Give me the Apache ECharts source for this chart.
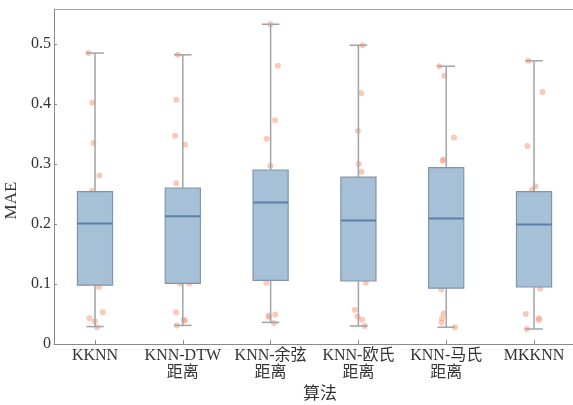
<!DOCTYPE html>
<html>
<head>
<meta charset="utf-8">
<script src="https://cdn.jsdelivr.net/npm/echarts@6/dist/echarts.min.js"></script>
<style>html,body{margin:0;padding:0;background:#fff;overflow:hidden;}#chart{width:573px;height:405px;overflow:hidden;}</style>
</head>
<body>
<div id="chart"></div>
<script>
// ---- data ----
const categories = ['KKNN', 'KNN-DTW\n距离', 'KNN-余弦\n距离', 'KNN-欧氏\n距离', 'KNN-马氏\n距离', 'MKKNN'];
const categoryPositions = [1, 2, 3, 4, 5, 6];
const boxMin    = [0.029, 0.031, 0.036, 0.030, 0.028, 0.025];
const boxQ1     = [0.098, 0.101, 0.106, 0.105, 0.093, 0.095];
const boxMedian = [0.201, 0.213, 0.236, 0.206, 0.209, 0.199];
const boxQ3     = [0.254, 0.260, 0.290, 0.278, 0.294, 0.254];
const boxMax    = [0.485, 0.482, 0.533, 0.498, 0.463, 0.472];

// visible scatter points: values and horizontal jitter (category units)
const pointsKKNN   = [0.485, 0.402, 0.335, 0.281, 0.255, 0.095, 0.043, 0.038, 0.053, 0.028];
const jitterKKNN   = [-0.075, -0.030, -0.018, 0.050, -0.034, 0.045, -0.064, -0.003, 0.088, 0.023];
const pointsDTW    = [0.482, 0.407, 0.347, 0.332, 0.268, 0.101, 0.101, 0.053, 0.040, 0.039, 0.031];
const jitterDTW    = [-0.057, -0.073, -0.088, 0.026, -0.076, -0.031, 0.075, -0.076, 0.011, 0.023, -0.068];
const pointsCos    = [0.533, 0.464, 0.373, 0.342, 0.297, 0.102, 0.045, 0.049, 0.047, 0.035];
const jitterCos    = [-0.003, 0.083, 0.049, -0.046, -0.003, -0.049, -0.015, 0.053, -0.026, 0.038];
const pointsEuc    = [0.498, 0.418, 0.355, 0.300, 0.287, 0.102, 0.057, 0.046, 0.041, 0.030];
const jitterEuc    = [0.046, 0.031, -0.007, 0.005, 0.034, 0.084, -0.041, -0.011, 0.042, 0.073];
const pointsMah    = [0.463, 0.447, 0.344, 0.306, 0.307, 0.091, 0.051, 0.043, 0.036, 0.028];
const jitterMah    = [-0.080, -0.023, 0.088, -0.042, -0.031, -0.057, -0.031, -0.049, -0.053, 0.099];
const pointsMK     = [0.472, 0.420, 0.330, 0.263, 0.257, 0.092, 0.050, 0.043, 0.040, 0.025];
const jitterMK     = [-0.064, 0.096, -0.075, 0.016, -0.023, 0.068, -0.094, 0.057, 0.053, -0.083];

const yTicks = [0, 0.1, 0.2, 0.3, 0.4, 0.5];
const yTickLabels = ['0', '0.1', '0.2', '0.3', '0.4', '0.5'];
const xAxisTitle = '算法';
const yAxisTitle = 'MAE';

// ---- build series data ----
const boxData = categoryPositions.map((x, i) => [x, boxMin[i], boxQ1[i], boxMedian[i], boxQ3[i], boxMax[i]]);
const pointGroups = [
  [pointsKKNN, jitterKKNN], [pointsDTW, jitterDTW], [pointsCos, jitterCos],
  [pointsEuc, jitterEuc], [pointsMah, jitterMah], [pointsMK, jitterMK]
];
const scatterData = [];
pointGroups.forEach((g, i) => {
  g[0].forEach((v, k) => scatterData.push([categoryPositions[i] + g[1][k], v]));
});

const serif = "'Liberation Serif', 'Times New Roman', 'Noto Sans CJK SC', serif";
const textColor = '#333333';

function renderBox(params, api) {
  const x = api.value(0);
  const halfBox = api.size([0.2, 0])[0];
  const halfCap = halfBox / 2;
  const pMin = api.coord([x, api.value(1)]);
  const pQ1 = api.coord([x, api.value(2)]);
  const pMed = api.coord([x, api.value(3)]);
  const pQ3 = api.coord([x, api.value(4)]);
  const pMax = api.coord([x, api.value(5)]);
  const cx = pMed[0];
  const whisker = { stroke: '#a3a3a3', lineWidth: 1.5 };
  return {
    type: 'group',
    children: [
      { type: 'line', shape: { x1: cx, y1: pQ3[1], x2: cx, y2: pMax[1] }, style: whisker },
      { type: 'line', shape: { x1: cx, y1: pQ1[1], x2: cx, y2: pMin[1] }, style: whisker },
      { type: 'line', shape: { x1: cx - halfCap, y1: pMax[1], x2: cx + halfCap, y2: pMax[1] }, style: whisker },
      { type: 'line', shape: { x1: cx - halfCap, y1: pMin[1], x2: cx + halfCap, y2: pMin[1] }, style: whisker },
      { type: 'rect', shape: { x: cx - halfBox, y: pQ3[1], width: halfBox * 2, height: pQ1[1] - pQ3[1] },
        style: { fill: '#a6c0d7', stroke: '#8394a6', lineWidth: 1.2 } },
      { type: 'line', shape: { x1: cx - halfBox, y1: pMed[1], x2: cx + halfBox, y2: pMed[1] },
        style: { stroke: '#5d7ea8', lineWidth: 2 } }
    ]
  };
}

const chart = echarts.init(document.getElementById('chart'), null, { renderer: 'canvas' });
chart.setOption({
  animation: false,
  backgroundColor: '#ffffff',
  grid: { left: 54, top: 9, width: 532, height: 335, show: false, containLabel: false, outerBoundsMode: 'none' },
  xAxis: [{
    type: 'value',
    min: 0.533,
    max: 6.592,
    name: xAxisTitle,
    nameLocation: 'middle',
    nameGap: 42,
    nameTextStyle: { fontFamily: serif, fontSize: 17, color: textColor },
    axisLine: { show: true, lineStyle: { color: '#8a8a8a', width: 1 } },
    axisTick: { show: true, inside: true, length: 4, customValues: categoryPositions, lineStyle: { color: '#8a8a8a' } },
    axisLabel: {
      customValues: categoryPositions,
      formatter: v => categories[categoryPositions.indexOf(Math.round(v))] || '',
      fontFamily: serif, fontSize: 16, color: textColor, lineHeight: 17, margin: 3
    },
    splitLine: { show: false }
  }, {
    type: 'value',
    position: 'top',
    min: 0.533,
    max: 6.592,
    axisLine: { show: true, onZero: false, lineStyle: { color: '#a0a0a0', width: 1 } },
    axisTick: { show: false },
    axisLabel: { show: false },
    splitLine: { show: false }
  }],
  yAxis: {
    type: 'value',
    min: 0,
    max: 0.5584,
    name: yAxisTitle,
    nameLocation: 'middle',
    nameGap: 27,
    nameRotate: 90,
    nameTextStyle: { fontFamily: serif, fontSize: 17, color: textColor, padding: [0, 48, 0, 0] },
    axisLine: { show: true, lineStyle: { color: '#8a8a8a', width: 1 } },
    axisTick: { show: true, inside: true, length: 3, customValues: yTicks, lineStyle: { color: '#8a8a8a' } },
    axisLabel: {
      customValues: yTicks,
      formatter: v => yTickLabels[yTicks.findIndex(t => Math.abs(t - v) < 1e-9)] || '',
      fontFamily: serif, fontSize: 16, color: textColor, margin: 3
    },
    splitLine: { show: false }
  },
  series: [
    {
      type: 'scatter',
      data: scatterData,
      symbolSize: 6,
      itemStyle: { color: '#f79a80', opacity: 0.55 },
      z: 1
    },
    {
      type: 'custom',
      data: boxData,
      renderItem: renderBox,
      encode: { x: 0, y: [1, 2, 3, 4, 5] },
      z: 2
    }
  ]
});
</script>
</body>
</html>
